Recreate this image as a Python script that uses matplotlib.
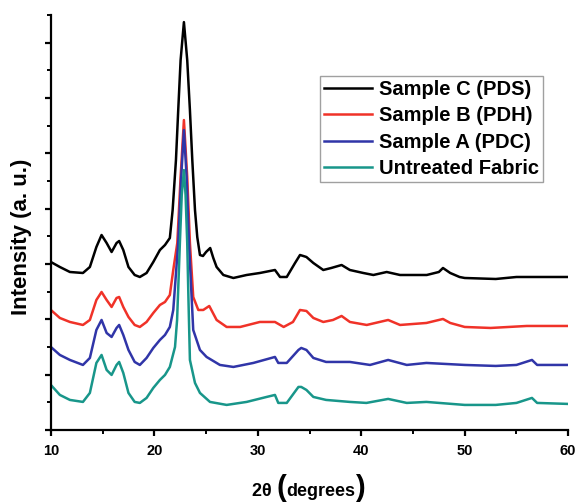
import numpy as np
import matplotlib
matplotlib.use("Agg")
from matplotlib import pyplot as plt
from matplotlib.offsetbox import TextArea, HPacker, AnnotationBbox

# 2theta positions and intensities (a.u.)
tt_c = [10.0, 10.87, 11.84, 13.1, 13.77, 14.4, 14.9, 15.39, 15.87, 16.35, 16.6, 17.0, 17.5,
        18.1, 18.6, 19.25, 19.9, 20.54, 21.03, 21.5, 21.77, 22.09, 22.31, 22.54, 22.86,
        23.18, 23.44, 23.67, 23.93, 24.15, 24.41, 24.7, 25.0, 25.4, 25.7, 26.02, 26.67,
        27.64, 28.92, 30.2, 31.66, 32.15, 32.8, 33.6, 34.08, 34.4, 34.7, 35.37, 36.33,
        37.1, 38.1, 38.9, 40.2, 41.17, 42.46, 43.75, 46.33, 47.5, 47.9, 48.6, 49.5, 50.0,
        53.0, 55.0, 60.0]
int_c = [168, 163, 158, 157, 163, 183, 195, 187, 178, 187, 189, 180, 163,
         155, 153, 157, 168, 180, 185, 192, 220, 270, 320, 370, 408,
         370, 320, 270, 220, 193, 175, 174, 178, 182, 172, 163, 155,
         152, 155, 157, 160, 153, 153, 167, 175, 174, 173, 167, 160,
         162, 165, 160, 157, 155, 158, 155, 155, 158, 162, 157, 153, 152,
         151, 153, 153]

tt_b = [10.0, 10.87, 11.84, 13.1, 13.77, 14.4, 14.9, 15.39, 15.87, 16.35, 16.6, 17.0, 17.5,
        18.1, 18.6, 19.25, 19.9, 20.54, 21.03, 21.5, 21.83, 22.22, 22.54, 22.86, 23.18,
        23.44, 23.76, 24.25, 24.73, 25.31, 26.02, 26.99, 28.3, 30.2, 31.66, 32.5, 33.4,
        34.08, 34.7, 35.37, 36.33, 37.27, 38.1, 38.9, 40.53, 42.6, 43.75, 46.3, 47.9, 48.6,
        50.0, 52.5, 56.0, 60.0]
int_b = [120, 112, 108, 105, 110, 130, 138, 130, 123, 132, 133, 123, 113,
         105, 103, 108, 117, 125, 128, 135, 160, 187, 253, 310, 253,
         187, 133, 120, 120, 124, 110, 103, 103, 108, 108, 103, 108,
         120, 119, 112, 108, 110, 114, 108, 105, 110, 105, 107, 111, 107,
         103, 102, 104, 104]

tt_a = [10.0, 10.87, 11.84, 13.1, 13.77, 14.4, 14.9, 15.39, 15.87, 16.35, 16.6, 17.0, 17.5,
        18.1, 18.6, 19.25, 19.9, 20.54, 21.03, 21.5, 21.83, 22.31, 22.6, 22.86, 23.12,
        23.35, 23.76, 24.41, 25.05, 26.34, 27.64, 29.57, 31.66, 31.98, 32.8, 33.93, 34.2,
        34.7, 35.37, 36.6, 38.9, 40.85, 42.6, 44.4, 46.3, 50.0, 53.0, 55.0, 56.5, 57.0, 60.0]
int_a = [83, 75, 70, 65, 72, 100, 110, 97, 93, 102, 105, 95, 80,
         68, 65, 72, 82, 90, 95, 103, 120, 187, 253, 300, 253,
         187, 100, 80, 73, 65, 63, 67, 73, 67, 67, 80, 82,
         80, 72, 68, 68, 65, 70, 65, 67, 65, 64, 65, 70, 65, 65]

tt_u = [10.0, 10.87, 11.84, 13.1, 13.77, 14.4, 14.9, 15.39, 15.87, 16.35, 16.6, 17.0, 17.5,
        18.1, 18.6, 19.25, 19.9, 20.54, 21.03, 21.5, 22.0, 22.2, 22.47, 22.65, 22.86, 23.02,
        23.18, 23.3, 23.44, 23.93, 24.41, 25.38, 26.99, 28.92, 30.86, 31.66, 31.98, 32.8,
        33.93, 34.2, 34.7, 35.37, 36.6, 38.9, 40.5, 42.6, 44.4, 46.3, 50.0, 53.0, 55.0,
        56.5, 57.0, 60.0]
int_u = [45, 35, 30, 28, 37, 67, 75, 60, 55, 65, 68, 57, 37,
         28, 27, 32, 42, 50, 55, 63, 83, 110, 187, 235, 260, 235,
         187, 130, 70, 47, 37, 28, 25, 28, 33, 35, 27, 27,
         43, 43, 40, 33, 30, 28, 27, 31, 27, 28, 25, 25, 27,
         32, 27, 26]

labels = ["Sample C (PDS)", "Sample B (PDH)", "Sample A (PDC)", "Untreated Fabric"]
colors = ["black", "#f03228", "#3035a8", "#18968a"]

plt.rcParams['font.family'] = ['Liberation Sans', 'DejaVu Sans']
plt.rcParams['font.weight'] = 'bold'

fig = plt.figure(figsize=(5.78, 5.04), dpi=100)
ax = fig.add_axes([0.088, 0.147, 0.895, 0.823])

series = [(tt_c, int_c), (tt_b, int_b), (tt_a, int_a), (tt_u, int_u)]
for (x, y), lab, col in zip(series, labels, colors):
    ax.plot(x, y, color=col, lw=1.8, label=lab, solid_joinstyle='round')

ax.set_xlim(10, 60)
ax.set_ylim(0, 415)
ax.set_xticks([10, 20, 30, 40, 50, 60])
ax.set_xticks([15, 25, 35, 45, 55], minor=True)
ax.set_yticks(np.linspace(0, 415, 16)[::2])
ax.set_yticks(np.linspace(0, 415, 16)[1::2], minor=True)
ax.set_yticklabels([])

for s in ['top', 'right']:
    ax.spines[s].set_visible(False)
for s in ['left', 'bottom']:
    ax.spines[s].set_linewidth(1.6)

ax.tick_params(axis='both', which='major', direction='out', length=4, width=1.6)
ax.tick_params(axis='both', which='minor', direction='out', length=3, width=1.4)
ax.tick_params(axis='x', labelsize=10.5, pad=6)

ax.set_ylabel("Intensity (a. u.)", fontsize=16, fontweight='bold')
ax.yaxis.set_label_coords(-0.036, 0.465)

# x label with the tall brackets
small = dict(size=13, weight='bold')
big = dict(size=21, weight='bold')
parts = [TextArea("2θ ", textprops=small), TextArea("(", textprops=big),
         TextArea("degrees", textprops=small), TextArea(")", textprops=big)]
pack = HPacker(children=parts, align="baseline", pad=0, sep=0)
ab = AnnotationBbox(pack, (0.533, 0.004), xycoords='figure fraction',
                    box_alignment=(0.5, 0.0), frameon=False)
fig.add_artist(ab)

leg = ax.legend(loc='upper right', bbox_to_anchor=(0.952, 0.853), fontsize=14.5,
                frameon=True, fancybox=False, labelspacing=0.36, handlelength=2.4,
                handletextpad=0.35, borderpad=0.2, borderaxespad=0)
leg.get_frame().set_edgecolor('#888888')
leg.get_frame().set_linewidth(1.0)
for t in leg.get_texts():
    t.set_fontweight('bold')

fig.savefig("out.png", dpi=100)
